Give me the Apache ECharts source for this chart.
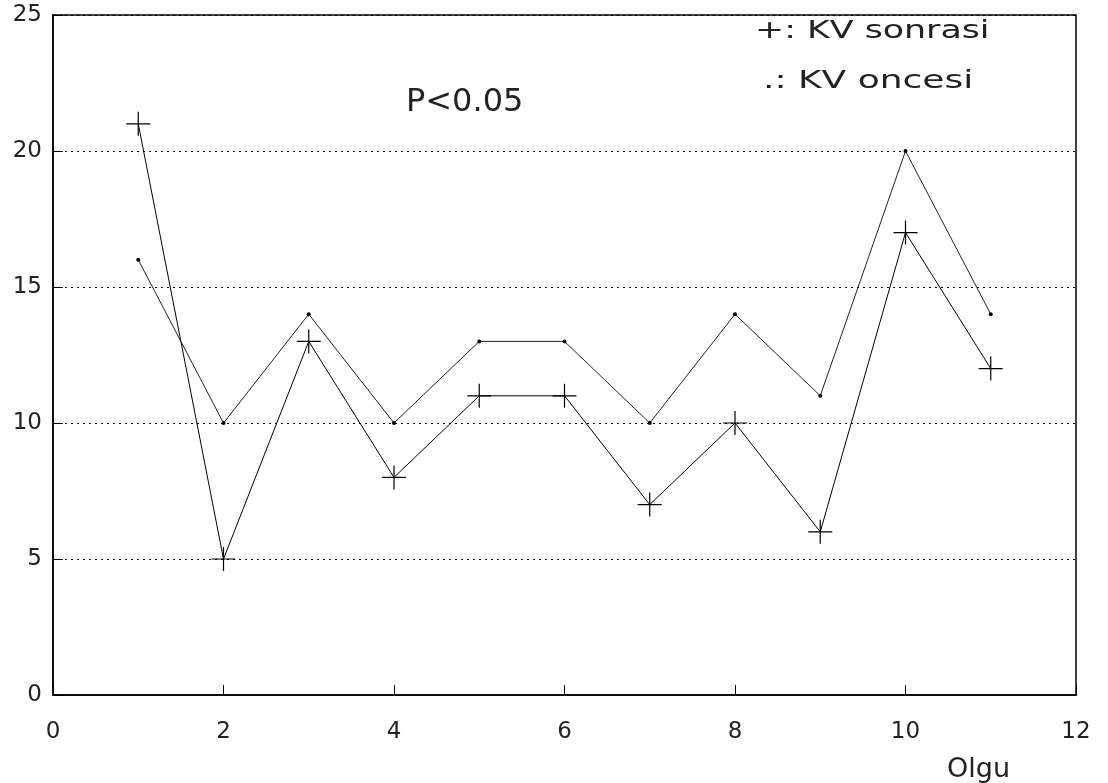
<!DOCTYPE html>
<html>
<head>
<meta charset="utf-8">
<script src="https://cdn.jsdelivr.net/npm/echarts@6/dist/echarts.min.js"></script>
<style>html,body{margin:0;padding:0;background:#fff}#c{width:1108px;height:783px}</style>
</head>
<body>
<div id="c"></div>
<script>
const olgu = [1, 2, 3, 4, 5, 6, 7, 8, 9, 10, 11];
const kvSonrasi = [21, 5, 13, 8, 11, 11, 7, 10, 6, 17, 12];
const kvOncesi = [16, 10, 14, 10, 13, 13, 10, 14, 11, 20, 14];
const xTicks = [0, 2, 4, 6, 8, 10, 12];
const yTicks = [0, 5, 10, 15, 20, 25];

const FONT = 'DejaVu Sans';
const TXT = '#222';
const plus = 'path://M11.4,0 H12.6 V11.4 H24 V12.6 H12.6 V24 H11.4 V12.6 H0 V11.4 H11.4 Z';

const chart = echarts.init(document.getElementById('c'), null, {renderer: 'canvas'});
chart.setOption({
  animation: false,
  backgroundColor: '#fff',
  grid: {left: 53, right: 32, top: 15, bottom: 88, show: true, borderColor: '#000', borderWidth: 1.5, backgroundColor: 'transparent'},
  xAxis: {
    type: 'value', min: xTicks[0], max: xTicks[xTicks.length - 1], interval: 2,
    axisLine: {show: true, lineStyle: {color: '#000', width: 1.5}},
    axisTick: {show: true, inside: true, length: 10, lineStyle: {color: '#000', width: 1}},
    axisLabel: {show: true, margin: 26, fontFamily: FONT, fontSize: 23, color: TXT},
    splitLine: {show: false}
  },
  yAxis: {
    type: 'value', min: yTicks[0], max: yTicks[yTicks.length - 1], interval: 5,
    axisLine: {show: true, lineStyle: {color: '#000', width: 1.5}},
    axisTick: {show: true, inside: true, length: 10, lineStyle: {color: '#000', width: 1}},
    axisLabel: {show: true, margin: 11, fontFamily: FONT, fontSize: 23, color: TXT},
    splitLine: {show: true, lineStyle: {color: '#000', type: [2, 4], width: 1}}
  },
  series: [
    {
      name: 'KV sonrasi', type: 'line',
      data: olgu.map((x, i) => [x, kvSonrasi[i]]),
      symbol: plus, symbolSize: 24,
      itemStyle: {color: '#000'},
      lineStyle: {color: '#000', width: 1}
    },
    {
      name: 'KV oncesi', type: 'line',
      data: olgu.map((x, i) => [x, kvOncesi[i]]),
      symbol: 'circle', symbolSize: 4,
      itemStyle: {color: '#000'},
      lineStyle: {color: '#222', width: 1}
    }
  ],
  graphic: [
    {type: 'text', x: 755, y: 20, scaleX: 1.45, style: {text: '+: KV sonrasi', fontFamily: FONT, fontSize: 24, fill: TXT}},
    {type: 'text', x: 763, y: 70, scaleX: 1.5, style: {text: '.: KV oncesi', fontFamily: FONT, fontSize: 24, fill: TXT}},
    {type: 'text', x: 406, y: 87, style: {text: 'P<0.05', fontFamily: FONT, fontSize: 32, fill: TXT}},
    {type: 'text', x: 947, y: 756, style: {text: 'Olgu', fontFamily: FONT, fontSize: 27, fill: TXT}}
  ]
});
</script>
</body>
</html>
